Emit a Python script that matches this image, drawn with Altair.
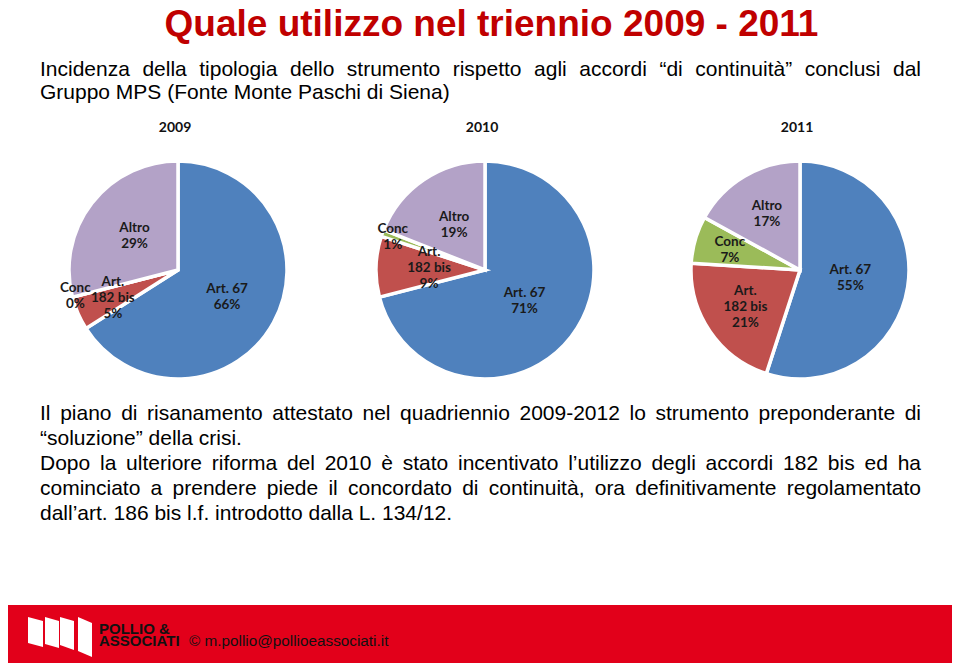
import altair as alt
import pandas as pd

# ---------------- data ----------------
categories = ["Art. 67", "Art. 182 bis", "Conc", "Altro"]
years = ["2009", "2010", "2011"]
values_2009 = [66, 5, 0, 29]
values_2010 = [71, 9, 1, 19]
values_2011 = [55, 21, 7, 17]
series = {"2009": values_2009, "2010": values_2010, "2011": values_2011}
colors = ["#4F81BD", "#C0504D", "#9BBB59", "#B3A2C7"]

title_text = "Quale utilizzo nel triennio 2009 - 2011"
subtitle_lines = [
    "Incidenza della tipologia dello strumento rispetto agli accordi “di continuità” conclusi dal",
    "Gruppo MPS (Fonte Monte Paschi di Siena)",
]
paragraph_lines = [
    "Il piano di risanamento attestato nel quadriennio 2009-2012 lo strumento preponderante di",
    "“soluzione” della crisi.",
    "Dopo la ulteriore riforma del 2010 è stato incentivato l’utilizzo degli accordi 182 bis ed ha",
    "cominciato a prendere piede il concordato di continuità, ora definitivamente regolamentato",
    "dall’art. 186 bis l.f. introdotto dalla L. 134/12.",
]
footer_brand = ["POLLIO &", "ASSOCIATI"]
footer_contact = "© m.pollio@pollioeassociati.it"

# ---------------- layout ----------------
OX, OY = 8, 8
W, H = 944, 655
pie_cx = {"2009": 178, "2010": 485, "2011": 800}
pie_cy = 270
pie_r = 109
label_r = {"2009": [56, 71, 106, 55], "2010": [50, 56, 98, 55], "2011": [51, 66, 73, 65]}
LBL_FS = 13.5
LBL_LH = 16

# Arial / Liberation Sans advance widths (1/1000 em)
AW = {" ": 278, "(": 333, ")": 333, ",": 278, "-": 333, ".": 278, "/": 278, ":": 278, "@": 1015,
      "A": 667, "B": 667, "C": 722, "D": 722, "E": 667, "F": 611, "G": 778, "H": 722, "I": 278,
      "J": 500, "K": 667, "L": 556, "M": 833, "N": 722, "O": 778, "P": 667, "Q": 778, "R": 722,
      "S": 667, "T": 611, "U": 722, "V": 667, "W": 944, "X": 667, "Y": 667, "Z": 611,
      "a": 556, "b": 556, "c": 500, "d": 556, "e": 556, "f": 278, "g": 556, "h": 556, "i": 222,
      "j": 222, "k": 500, "l": 222, "m": 833, "n": 556, "o": 556, "p": 556, "q": 556, "r": 333,
      "s": 500, "t": 278, "u": 556, "v": 500, "w": 722, "x": 500, "y": 500, "z": 500,
      "à": 556, "è": 556, "é": 556, "“": 333, "”": 333, "’": 222, "©": 737}


def tw(s, fs):
    return sum(AW.get(ch, 556) for ch in s) * fs / 1000.0


def layout_line(line, x0, x1, baseline, fs, justify):
    words = line.split(" ")
    widths = [tw(w, fs) for w in words]
    if justify and len(words) > 1:
        gap = (x1 - x0 - sum(widths)) / (len(words) - 1)
    else:
        gap = tw(" ", fs)
    rows = []
    x = x0
    for w, wd in zip(words, widths):
        rows.append({"x": x - OX, "y": baseline - OY, "t": w})
        x += wd + gap
    return rows


TXT_FONT = "Liberation Sans, Arial, sans-serif"
FS = 21

word_rows = []
word_rows += layout_line(subtitle_lines[0], 40, 921, 76, FS, True)
word_rows += layout_line(subtitle_lines[1], 40, 921, 99, FS, False)
para_base = [420, 445, 470, 495, 520]
para_just = [True, False, True, True, False]
for ln, b, j in zip(paragraph_lines, para_base, para_just):
    word_rows += layout_line(ln, 40, 921, b, FS, j)
words_df = pd.DataFrame(word_rows)

layers = []

# footer band
footer = alt.Chart(pd.DataFrame({"a": [0]})).mark_rect(color="#E2001A").encode(
    x=alt.value(0), x2=alt.value(W), y=alt.value(605 - OY), y2=alt.value(668 - OY)
)
layers.append(footer)

# logo shapes (white flags)
logo_rows = []
shapes = [
    (28, 617, 643, 43, 621, 647),
    (45, 617, 644, 59, 621, 648),
    (60, 617, 645, 74, 621, 650),
    (78, 617, 651, 92, 623, 657),
]
for i, (xa, ta, ba, xb, tb, bb) in enumerate(shapes):
    logo_rows.append({"s": i, "x": xa - OX, "y": ta - OY, "y2": ba - OY})
    logo_rows.append({"s": i, "x": xb - OX, "y": tb - OY, "y2": bb - OY})
logo = alt.Chart(pd.DataFrame(logo_rows)).mark_area(color="white", opacity=1).encode(
    x=alt.X("x:Q", scale=None, axis=None),
    y=alt.Y("y:Q", scale=None, axis=None),
    y2="y2:Q",
    detail="s:N",
)
layers.append(logo)

brand_df = pd.DataFrame({"t": footer_brand, "x": [99 - OX, 99 - OX], "y": [634 - OY, 646 - OY]})
brand = alt.Chart(brand_df).mark_text(
    font=TXT_FONT, fontWeight="bold", fontSize=15, align="left", baseline="alphabetic", color="#111111"
).encode(x=alt.X("x:Q", scale=None, axis=None), y=alt.Y("y:Q", scale=None, axis=None), text="t:N")
layers.append(brand)

contact = alt.Chart(pd.DataFrame({"t": [footer_contact]})).mark_text(
    font=TXT_FONT, fontSize=15.3, align="left", baseline="alphabetic", color="#111111"
).encode(x=alt.value(189 - OX), y=alt.value(646 - OY), text="t:N")
layers.append(contact)

# title
title = alt.Chart(pd.DataFrame({"t": [title_text]})).mark_text(
    font=TXT_FONT, fontWeight="bold", fontSize=37, align="center", baseline="alphabetic", color="#C00000"
).encode(x=alt.value(491.5 - OX), y=alt.value(36 - OY), text="t:N")
layers.append(title)

# body text (justified word by word)
words = alt.Chart(words_df).mark_text(
    font=TXT_FONT, fontSize=FS, align="left", baseline="alphabetic", color="#000000"
).encode(x=alt.X("x:Q", scale=None, axis=None), y=alt.Y("y:Q", scale=None, axis=None), text="t:N")
layers.append(words)

# year labels
yr_df = pd.DataFrame({"t": years, "x": [pie_cx[y] - 3 - OX for y in years], "y": [128 - OY] * 3})
yr = alt.Chart(yr_df).mark_text(
    font="Lato", fontWeight="bold", fontSize=14, align="center", baseline="middle", color="#111111"
).encode(x=alt.X("x:Q", scale=None, axis=None), y=alt.Y("y:Q", scale=None, axis=None), text="t:N")
layers.append(yr)

# pies
color_scale = alt.Scale(domain=categories, range=colors)
theta_scale = alt.Scale(domain=[0, 100])
for y in years:
    vals = series[y]
    labels = [("Art.\n182 bis\n" if c == "Art. 182 bis" else c + "\n") + f"{v}%" for c, v in zip(categories, vals)]
    df = pd.DataFrame({"cat": categories, "val": vals, "idx": list(range(len(categories))),
                       "lr": label_r[y], "label": labels,
                       "nl": [lb.count("\n") + 1 for lb in labels]})
    arc = alt.Chart(df).mark_arc(outerRadius=pie_r, stroke="white", strokeWidth=3.5).encode(
        theta=alt.Theta("val:Q", stack=True, scale=theta_scale),
        order=alt.Order("idx:Q"),
        x=alt.value(pie_cx[y] - OX), y=alt.value(pie_cy - OY),
        color=alt.Color("cat:N", scale=color_scale, legend=None),
    )
    layers.append(arc)
    for nl in (2, 3):
        txt = alt.Chart(df).transform_window(
            cum="sum(val)", sort=[alt.SortField("idx")], frame=[None, 0]
        ).transform_calculate(
            mid="datum.cum - datum.val / 2"
        ).transform_filter(
            alt.datum.nl == nl
        ).mark_text(
            font="Lato", fontWeight="bold", fontSize=LBL_FS, lineBreak="\n", lineHeight=LBL_LH,
            align="center", baseline="middle", color="#1a1a1a", dy=-(nl - 1) * LBL_LH / 2
        ).encode(
            theta=alt.Theta("mid:Q", stack=False, scale=theta_scale),
            x=alt.value(pie_cx[y] - OX), y=alt.value(pie_cy - OY),
            radius=alt.Radius("lr:Q", scale=None),
            text="label:N",
        )
        layers.append(txt)

chart = alt.layer(*layers).properties(
    width=W, height=H, padding=0, autosize=alt.AutoSizeParams(type="none"), background="white"
).configure_view(stroke=None)

chart.save("out.html", embed_options={"renderer": "svg", "actions": False})
